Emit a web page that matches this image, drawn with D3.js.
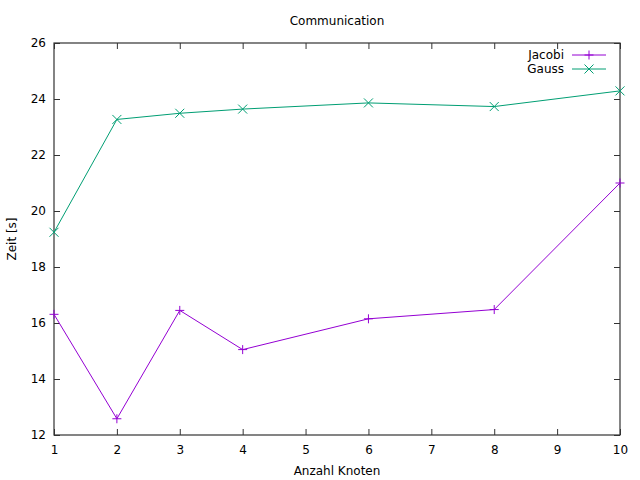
<!DOCTYPE html>
<html>
<head>
<meta charset="utf-8">
<script src="https://cdn.jsdelivr.net/npm/d3@7"></script>
<style>
  body { margin: 0; background: #fff; }
  svg { display: block; font-family: "DejaVu Sans", sans-serif; }
</style>
</head>
<body>
<div id="chart"></div>
<script>
// Data
const nodes = [1, 2, 3, 4, 6, 8, 10];
const jacobi = [16.31, 12.58, 16.45, 15.05, 16.15, 16.48, 21.0];
const gauss = [19.24, 23.27, 23.49, 23.64, 23.86, 23.73, 24.29];
const xTicks = [1, 2, 3, 4, 5, 6, 7, 8, 9, 10];
const yTicks = [12, 14, 16, 18, 20, 22, 24, 26];

const series = [
    { name: "Jacobi", values: jacobi, color: "#9400d3", marker: "plus" },
    { name: "Gauss", values: gauss, color: "#009e73", marker: "cross" }
];

const width = 640;
const height = 480;
const margin = { top: 43, right: 20, bottom: 45, left: 54 };

const svg = d3.select("#chart")
    .append("svg")
    .attr("width", width)
    .attr("height", height);

const x = d3.scaleLinear()
    .domain([1, 10])
    .range([margin.left, width - margin.right]);

const y = d3.scaleLinear()
    .domain([12, 26])
    .range([height - margin.bottom, margin.top]);

const border = "#333";

// Bottom / left axes with labels, ticks drawn inward
const xAxis = svg.append("g")
    .attr("transform", `translate(0,${height - margin.bottom})`)
    .call(d3.axisBottom(x).tickValues(xTicks).tickSize(-6).tickPadding(10).tickFormat(d3.format("d")));

const yAxis = svg.append("g")
    .attr("transform", `translate(${margin.left},0)`)
    .call(d3.axisLeft(y).tickValues(yTicks).tickSize(-6).tickPadding(8).tickFormat(d3.format("d")));

// Mirror ticks on top / right
const xTop = svg.append("g")
    .attr("transform", `translate(0,${margin.top})`)
    .call(d3.axisTop(x).tickValues(xTicks).tickSize(-6).tickFormat(""));

const yRight = svg.append("g")
    .attr("transform", `translate(${width - margin.right},0)`)
    .call(d3.axisRight(y).tickValues(yTicks).tickSize(-6).tickFormat(""));

[xAxis, yAxis, xTop, yRight].forEach(g => {
    g.select(".domain").remove();
    g.selectAll(".tick line").attr("stroke", border);
    g.selectAll("text").attr("fill", "#000").style("font-size", "12px")
        .style("font-family", "DejaVu Sans, sans-serif");
});

// Border box
svg.append("rect")
    .attr("x", margin.left)
    .attr("y", margin.top)
    .attr("width", width - margin.left - margin.right)
    .attr("height", height - margin.top - margin.bottom)
    .attr("fill", "none")
    .attr("stroke", border)
    .attr("stroke-width", 1.2);

// Title and axis labels
svg.append("text")
    .attr("x", (margin.left + width - margin.right) / 2)
    .attr("y", 25)
    .attr("text-anchor", "middle")
    .style("font-size", "12px")
    .text("Communication");

svg.append("text")
    .attr("x", (margin.left + width - margin.right) / 2)
    .attr("y", 475)
    .attr("text-anchor", "middle")
    .style("font-size", "12px")
    .text("Anzahl Knoten");

svg.append("text")
    .attr("transform", `translate(16,${(margin.top + height - margin.bottom) / 2}) rotate(-90)`)
    .attr("text-anchor", "middle")
    .style("font-size", "12px")
    .text("Zeit [s]");

// Marker path generator
function markerPath(type, s) {
    if (type === "plus") return `M${-s},0H${s}M0,${-s}V${s}`;
    return `M${-s},${-s}L${s},${s}M${-s},${s}L${s},${-s}`;
}

const line = d3.line()
    .x((d, i) => x(nodes[i]))
    .y(d => y(d));

series.forEach(s => {
    svg.append("path")
        .datum(s.values)
        .attr("fill", "none")
        .attr("stroke", s.color)
        .attr("stroke-width", 1)
        .attr("d", line);

    svg.append("g")
        .selectAll("path")
        .data(s.values)
        .enter().append("path")
        .attr("transform", (d, i) => `translate(${x(nodes[i])},${y(d)})`)
        .attr("d", markerPath(s.marker, 4.5))
        .attr("stroke", s.color)
        .attr("stroke-width", 1)
        .attr("fill", "none");
});

// Legend (top right, inside the plot)
const legend = svg.append("g");
series.forEach((s, i) => {
    const ly = 55 + i * 14;
    legend.append("text")
        .attr("x", 564)
        .attr("y", ly)
        .attr("dy", "0.35em")
        .attr("text-anchor", "end")
        .style("font-size", "12px")
        .text(s.name);
    legend.append("line")
        .attr("x1", 572).attr("x2", 606)
        .attr("y1", ly).attr("y2", ly)
        .attr("stroke", s.color)
        .attr("stroke-width", 1);
    legend.append("path")
        .attr("transform", `translate(589,${ly})`)
        .attr("d", markerPath(s.marker, 4.5))
        .attr("stroke", s.color)
        .attr("fill", "none");
});
</script>
</body>
</html>
